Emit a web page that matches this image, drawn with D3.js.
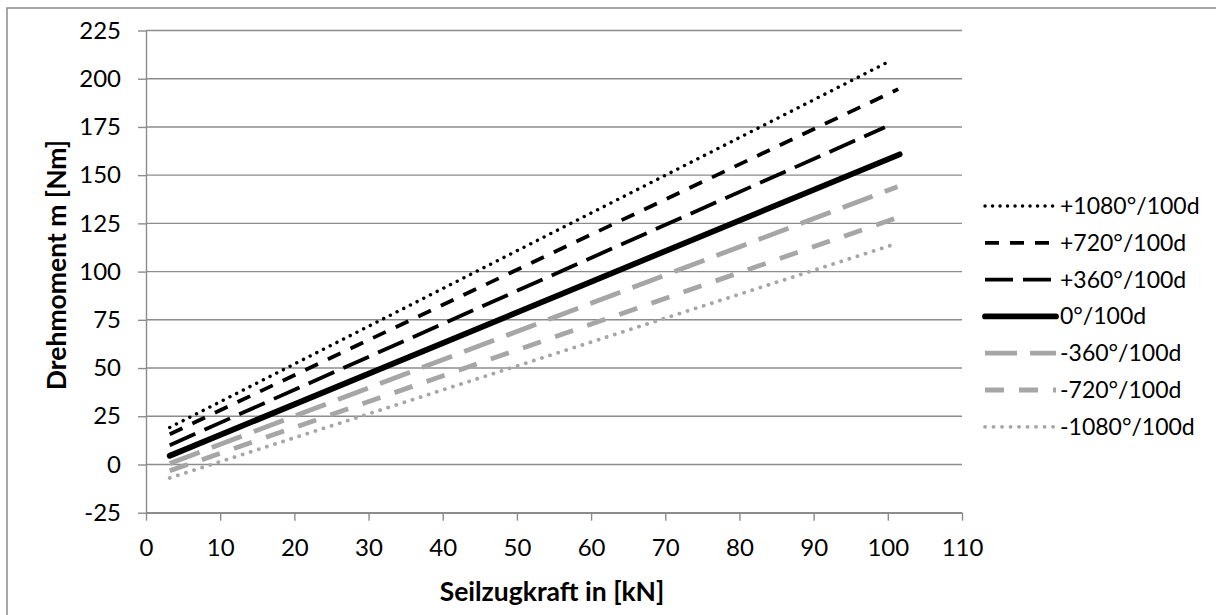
<html lang="de">
<head>
	<meta charset="utf-8">
	<script src="https://cdnjs.cloudflare.com/ajax/libs/d3/7.8.5/d3.min.js"></script>
	<style>
		body { margin: 0; background: #fff; }
		text { font-family: Lato, "Open Sans", "Liberation Sans", sans-serif; fill: #000; }
	</style>
</head>
<body>
	<script type="text/javascript">
		var w = 1216;
		var h = 615;

		// Series names (legend order) and values
		var labels = ["+1080°/100d", "+720°/100d", "+360°/100d", "0°/100d", "-360°/100d", "-720°/100d", "-1080°/100d"];
		var kraftStart = [3.2, 3.2, 3.2, 3.2, 3.2, 3.2, 3.2];          // Seilzugkraft [kN]
		var kraftEnd = [100.3, 101.4, 99.6, 101.6, 101.3, 101.0, 101.0];
		var momentStart = [19.2, 15.7, 10.0, 4.5, 0.5, -3.3, -7.0];       // Drehmoment [Nm]
		var momentEnd = [209.2, 194.6, 174.8, 160.8, 144.0, 127.6, 114.3];
		var xTicks = [0, 10, 20, 30, 40, 50, 60, 70, 80, 90, 100, 110];
		var yTicks = [-25, 0, 25, 50, 75, 100, 125, 150, 175, 200, 225];

		// line look for each series
		var black = "#000000", grey = "#a6a6a6";
		var styles = [
			{ color: black, width: 3.4, dash: "0.1 7.4", cap: "round" },
			{ color: black, width: 3.8, dash: "14 11", cap: "butt" },
			{ color: black, width: 3.8, dash: "28 10", cap: "butt" },
			{ color: black, width: 5.8, dash: null, cap: "round" },
			{ color: grey, width: 4.8, dash: "32 13", cap: "butt" },
			{ color: grey, width: 4.8, dash: "19 15", cap: "butt" },
			{ color: grey, width: 3.8, dash: "0.1 8.4", cap: "round" }
		];

		var plot = { left: 146, right: 962, top: 30.5, bottom: 512.7 };

		var svg = d3.select("body")
				.append("svg")
				.attr("width", w)
				.attr("height", h);

		// outer chart border (only top / left visible in the frame)
		svg.append("rect")
			.attr("x", 7).attr("y", 8)
			.attr("width", w + 20).attr("height", h + 20)
			.attr("fill", "#fff")
			.attr("stroke", "#8c8c8c")
			.attr("stroke-width", 1.5);

		var x = d3.scaleLinear().domain([0, 110]).range([plot.left, plot.right]);
		var y = d3.scaleLinear().domain([-25, 225]).range([plot.bottom, plot.top]);

		// gridlines
		svg.append("g")
			.selectAll("line")
			.data(yTicks)
			.enter()
			.append("line")
			.attr("x1", plot.left).attr("x2", plot.right)
			.attr("y1", function(d) { return y(d); })
			.attr("y2", function(d) { return y(d); })
			.attr("stroke", "#8c8c8c")
			.attr("stroke-width", 1.4);

		var plain = function(d) { return String(d); }; // keep "-25" with a hyphen

		var yAxis = svg.append("g")
			.attr("transform", "translate(" + plot.left + ",0)")
			.call(d3.axisLeft(y).tickValues(yTicks).tickFormat(plain).tickSize(8).tickPadding(17).tickSizeOuter(0));

		var xAxis = svg.append("g")
			.attr("transform", "translate(0," + plot.bottom + ")")
			.call(d3.axisBottom(x).tickValues(xTicks).tickFormat(plain).tickSize(8).tickPadding(18).tickSizeOuter(0));

		[xAxis, yAxis].forEach(function(a) {
			a.select(".domain").attr("stroke", "#8c8c8c").attr("stroke-width", 1.4);
			a.selectAll(".tick line").attr("stroke", "#8c8c8c").attr("stroke-width", 1.4);
			a.selectAll(".tick text").style("font-size", "24px").attr("fill", "#000");
		});

		// series
		var line = d3.line()
			.x(function(d) { return x(d[0]); })
			.y(function(d) { return y(d[1]); });

		var seriesData = labels.map(function(name, i) {
			return { name: name, style: styles[i],
				pts: [[kraftStart[i], momentStart[i]], [kraftEnd[i], momentEnd[i]]] };
		});

		svg.append("g")
			.selectAll("path")
			.data(seriesData)
			.enter()
			.append("path")
			.attr("d", function(d) { return line(d.pts); })
			.attr("fill", "none")
			.attr("stroke", function(d) { return d.style.color; })
			.attr("stroke-width", function(d) { return d.style.width; })
			.attr("stroke-dasharray", function(d) { return d.style.dash; })
			.attr("stroke-linecap", function(d) { return d.style.cap; });

		// legend
		var legend = svg.append("g")
			.selectAll("g")
			.data(seriesData)
			.enter()
			.append("g")
			.attr("transform", function(d, i) { return "translate(985," + (206 + i * 36.8) + ")"; });

		legend.append("line")
			.attr("x1", 0).attr("x2", 71)
			.attr("stroke", function(d) { return d.style.color; })
			.attr("stroke-width", function(d) { return d.style.width; })
			.attr("stroke-dasharray", function(d) { return d.style.dash; })
			.attr("stroke-linecap", function(d) { return d.style.cap; });

		legend.append("text")
			.attr("x", 75)
			.attr("dy", "0.35em")
			.style("font-size", "23px")
			.text(function(d) { return d.name; });

		// axis titles
		svg.append("text")
			.attr("x", 552).attr("y", 592)
			.attr("text-anchor", "middle")
			.attr("dy", "0.35em")
			.style("font-size", "26.5px")
			.style("font-weight", "bold")
			.text("Seilzugkraft in [kN]");

		svg.append("text")
			.attr("transform", "translate(57,265) rotate(-90)")
			.attr("text-anchor", "middle")
			.attr("dy", "0.35em")
			.style("font-size", "26.5px")
			.style("font-weight", "bold")
			.text("Drehmoment m [Nm]");
	</script>
</body>
</html>
